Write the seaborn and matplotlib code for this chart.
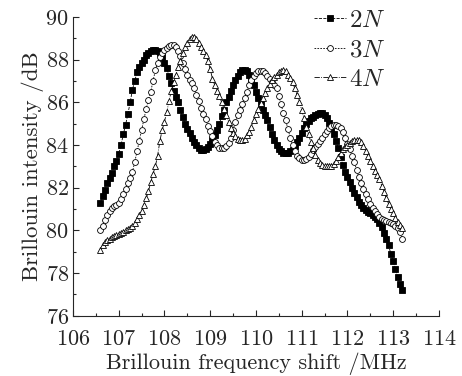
import numpy as np
import pandas as pd
import seaborn as sns
import matplotlib
matplotlib.use("Agg")
import matplotlib.pyplot as plt
from matplotlib.ticker import MultipleLocator

# frequency sweep starts at 106.6 MHz, 0.05 MHz step
f_start = 106.6
f_step = 0.05

y_2n = [81.3, 81.6, 81.9, 82.2, 82.45, 82.7, 83.0, 83.25, 83.6, 84.0,
        84.5, 84.95, 85.45, 86.0, 86.6, 87.0, 87.4, 87.65, 87.85, 88.0,
        88.2, 88.3, 88.4, 88.45, 88.45, 88.42, 88.3, 88.1, 87.85, 87.6,
        87.25, 86.9, 86.55, 86.25, 86.0, 85.65, 85.3, 85.0, 84.75, 84.55,
        84.35, 84.15, 84.0, 83.85, 83.78, 83.75, 83.8, 83.9, 84.05, 84.25,
        84.45, 84.7, 85.0, 85.35, 85.65, 86.0, 86.25, 86.55, 86.8, 87.05,
        87.25, 87.4, 87.5, 87.52, 87.45, 87.3, 87.1, 86.8, 86.5, 86.2,
        85.9, 85.65, 85.4, 85.15, 84.85, 84.5, 84.25, 84.0, 83.82, 83.7,
        83.63, 83.62, 83.65, 83.7, 83.78, 83.95, 84.15, 84.35, 84.55, 84.78,
        84.98, 85.12, 85.25, 85.32, 85.4, 85.45, 85.5, 85.5, 85.4, 85.25,
        85.05, 84.8, 84.5, 84.2, 83.85, 83.45, 83.05, 82.75, 82.5, 82.25,
        82.0, 81.75, 81.55, 81.35, 81.2, 81.05, 80.95, 80.85, 80.8, 80.72,
        80.65, 80.55, 80.35, 80.15, 79.9, 79.6, 79.3, 78.9, 78.55, 78.2,
        77.8, 77.5, 77.2]

y_3n = [80.0, 80.2, 80.5, 80.7, 80.9, 81.05, 81.15, 81.2, 81.3, 81.45,
        81.7, 81.95, 82.2, 82.45, 82.75, 83.2, 83.7, 84.2, 84.7, 85.2,
        85.7, 86.1, 86.5, 87.0, 87.5, 87.85, 88.1, 88.3, 88.45, 88.55,
        88.65, 88.7, 88.7, 88.6, 88.4, 88.15, 87.85, 87.55, 87.3, 87.05,
        86.9, 86.65, 86.35, 86.05, 85.75, 85.45, 85.2, 84.9, 84.65, 84.4,
        84.15, 84.0, 83.88, 83.85, 83.88, 83.95, 84.1, 84.35, 84.7, 85.1,
        85.4, 85.65, 85.9, 86.2, 86.5, 86.8, 87.05, 87.25, 87.38, 87.45,
        87.48, 87.45, 87.38, 87.25, 87.1, 86.95, 86.8, 86.65, 86.3, 85.9,
        85.5, 85.15, 84.75, 84.35, 84.0, 83.7, 83.48, 83.38, 83.3, 83.3,
        83.35, 83.45, 83.6, 83.75, 83.9, 84.05, 84.2, 84.35, 84.5, 84.65,
        84.8, 84.9, 84.95, 84.95, 84.9, 84.8, 84.6, 84.35, 84.05, 83.8,
        83.5, 83.2, 82.85, 82.5, 82.2, 81.95, 81.7, 81.45, 81.25, 81.05,
        80.9, 80.75, 80.65, 80.55, 80.5, 80.45, 80.4, 80.35, 80.3, 80.2,
        80.1, 79.95, 79.6]

y_4n = [79.1, 79.3, 79.45, 79.55, 79.6, 79.68, 79.75, 79.8, 79.85, 79.9,
        79.95, 80.0, 80.05, 80.12, 80.2, 80.35, 80.55, 80.7, 80.9, 81.2,
        81.5, 81.85, 82.25, 82.65, 83.0, 83.5, 84.2, 84.7, 85.1, 85.55,
        86.05, 86.55, 86.95, 87.3, 87.65, 87.95, 88.3, 88.6, 88.8, 88.95,
        89.05, 89.05, 88.95, 88.8, 88.6, 88.4, 88.2, 87.95, 87.55, 87.1,
        86.8, 86.55, 86.3, 86.0, 85.7, 85.4, 85.1, 84.8, 84.55, 84.4,
        84.3, 84.25, 84.25, 84.3, 84.45, 84.62, 84.85, 85.15, 85.45, 85.7,
        85.95, 86.2, 86.45, 86.65, 86.85, 87.05, 87.2, 87.3, 87.4, 87.48,
        87.5, 87.45, 87.3, 87.15, 86.95, 86.65, 86.35, 86.0, 85.65, 85.25,
        84.85, 84.5, 84.15, 83.85, 83.55, 83.3, 83.15, 83.08, 83.03, 83.0,
        83.0, 83.02, 83.1, 83.25, 83.45, 83.62, 83.8, 83.92, 84.02, 84.1,
        84.18, 84.23, 84.25, 84.25, 84.15, 83.95, 83.7, 83.5, 83.25, 83.0,
        82.8, 82.6, 82.4, 82.1, 81.8, 81.5, 81.25, 81.0, 80.8, 80.6,
        80.4, 80.25, 80.1]

labels = ["$2N$", "$3N$", "$4N$"]

sns.set_style("ticks")
plt.rcParams["font.family"] = ["cmr10", "DejaVu Serif"]
plt.rcParams["mathtext.fontset"] = "cm"
plt.rcParams["axes.formatter.use_mathtext"] = True

fig = plt.figure(figsize=(4.62, 3.76), dpi=100)
ax = fig.add_axes([0.158, 0.160, 0.792, 0.795])

styles = [
    dict(marker="s", linestyle="--", markerfacecolor="black"),
    dict(marker="o", linestyle=(0, (2, 1.5)), markerfacecolor="white"),
    dict(marker="^", linestyle="-.", markerfacecolor="white"),
]

for y, lab, st in zip([y_2n, y_3n, y_4n], labels, styles):
    freq = f_start + f_step * np.arange(len(y))
    df = pd.DataFrame({"freq": freq, "intensity": y})
    sns.lineplot(data=df, x="freq", y="intensity", ax=ax, color="black",
                 linewidth=0.6, markersize=4.2, markeredgecolor="black",
                 markeredgewidth=0.6, label=lab, **st)

ax.set_xlim(106, 114)
ax.set_ylim(76, 90)
ax.xaxis.set_major_locator(MultipleLocator(1))
ax.xaxis.set_minor_locator(MultipleLocator(0.5))
ax.yaxis.set_major_locator(MultipleLocator(2))
ax.yaxis.set_minor_locator(MultipleLocator(1))
ax.tick_params(which="both", direction="in", labelsize=16, width=0.8)
ax.tick_params(which="major", length=4, pad=3)
ax.tick_params(axis="x", which="major", pad=10)
ax.tick_params(which="minor", length=2)
sns.despine(ax=ax)
for s in ["left", "bottom"]:
    ax.spines[s].set_linewidth(0.8)

ax.set_xlabel("Brillouin frequency shift /MHz", fontsize=16, labelpad=2)
ax.set_ylabel("Brillouin intensity /dB", fontsize=16.5, labelpad=1)

ax.legend(loc="upper left", bbox_to_anchor=(0.675, 0.982),
          bbox_transform=fig.transFigure, frameon=False,
          fontsize=18, handlelength=1.25, handletextpad=0.12,
          labelspacing=0.28, borderaxespad=0, borderpad=0.1)

fig.savefig("out.png", dpi=100)
